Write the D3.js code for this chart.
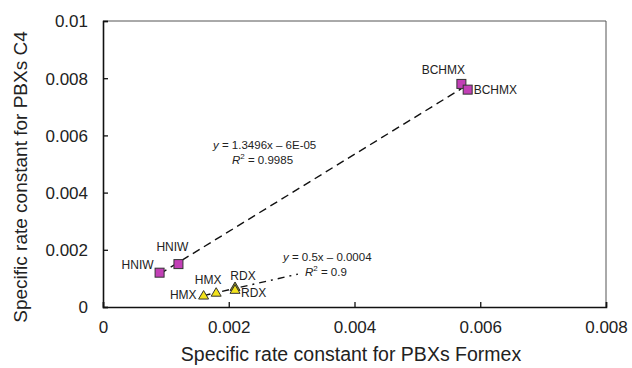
<!DOCTYPE html>
<html>
<head>
<meta charset="utf-8">
<script src="https://cdn.jsdelivr.net/npm/d3@7"></script>
<style>
  body { margin: 0; background: #fff; }
  text { font-family: "Liberation Sans", Arial, sans-serif; fill: #222; }
</style>
</head>
<body>
<svg width="632" height="368"></svg>
<script>
// data
var squareNames = ["BCHMX", "BCHMX", "HNIW", "HNIW"];
var squareX = [0.0057, 0.0058, 0.0009, 0.0012];
var squareY = [0.0078, 0.0076, 0.0012, 0.0015];

var triNames = ["HMX", "HMX", "RDX", "RDX"];
var triX = [0.0016, 0.0018, 0.0021, 0.0021];
var triY = [0.0004, 0.0005, 0.0007, 0.0006];

var xTicks = [0, 0.002, 0.004, 0.006, 0.008];
var yTicks = [0, 0.002, 0.004, 0.006, 0.008, 0.01];

// trend lines: slope, intercept, x range
var fit1 = { a: 1.3496, b: -0.00006, x0: 0.0009, x1: 0.0057 };
var fit2 = { a: 0.5, b: -0.0004, x0: 0.0016, x1: 0.0031 };

var svg = d3.select("svg");
var margin = { top: 21, right: 26, bottom: 61, left: 103 };
var width = 632 - margin.left - margin.right;
var height = 368 - margin.top - margin.bottom;

var x = d3.scaleLinear().domain([0, 0.008]).range([0, width]);
var y = d3.scaleLinear().domain([0, 0.01]).range([height, 0]);

var g = svg.append("g")
  .attr("transform", "translate(" + margin.left + "," + margin.top + ")");

// top and right frame
g.append("path")
  .attr("d", "M0,0H" + width + "V" + height)
  .attr("fill", "none")
  .attr("stroke", "#555")
  .attr("stroke-width", 1);

// axes, ticks drawn inside
var fmt = function(d) { return d === 0 ? "0" : String(+d.toFixed(3)); };
var xAxis = g.append("g")
  .attr("transform", "translate(0," + height + ")")
  .call(d3.axisBottom(x).tickValues(xTicks).tickSize(-5).tickPadding(14).tickFormat(fmt));
var yAxis = g.append("g")
  .call(d3.axisLeft(y).tickValues(yTicks).tickSize(-5).tickPadding(15).tickFormat(fmt));

[xAxis, yAxis].forEach(function(ax) {
  ax.select(".domain").attr("stroke", "#111").attr("stroke-width", 1.6);
  ax.selectAll(".tick line").attr("stroke", "#111").attr("stroke-width", 1.3);
  ax.selectAll(".tick text")
    .style("font-family", "'Liberation Sans', Arial, sans-serif")
    .style("font-size", "17px").attr("fill", "#222");
});
yAxis.selectAll(".tick text").attr("dy", "0.35em");

// axis titles
svg.append("text")
  .attr("x", 351).attr("y", 361)
  .attr("text-anchor", "middle").style("font-size", "19.5px")
  .text("Specific rate constant for PBXs Formex");
svg.append("text")
  .attr("transform", "translate(27,177) rotate(-90)")
  .attr("text-anchor", "middle").style("font-size", "19px")
  .text("Specific rate constant for PBXs C4");

// trend lines
function fitLine(f, dash) {
  g.append("line")
    .attr("x1", x(f.x0)).attr("y1", y(f.a * f.x0 + f.b))
    .attr("x2", x(f.x1)).attr("y2", y(f.a * f.x1 + f.b))
    .attr("stroke", "#111").attr("stroke-width", 1.4)
    .attr("stroke-dasharray", dash);
}
fitLine(fit1, "8,5");
fitLine(fit2, "7,5,2,5");

// squares
var sq = squareX.map(function(v, i) { return { x: v, y: squareY[i], name: squareNames[i] }; });
g.selectAll("rect.pt").data(sq).enter().append("rect")
  .attr("class", "pt")
  .attr("x", function(d) { return x(d.x) - 4.5; })
  .attr("y", function(d) { return y(d.y) - 4.5; })
  .attr("width", 9).attr("height", 9)
  .attr("fill", "#c23fb6").attr("stroke", "#333").attr("stroke-width", 1);

// triangles
var tri = triX.map(function(v, i) { return { x: v, y: triY[i], name: triNames[i] }; });
g.selectAll("path.pt").data(tri).enter().append("path")
  .attr("class", "pt")
  .attr("transform", function(d) { return "translate(" + x(d.x) + "," + y(d.y) + ")"; })
  .attr("d", "M0,-5L5,3.5H-5Z")
  .attr("fill", function(d, i) { return i === 2 ? "#8a8a1a" : "#f2e21c"; })
  .attr("stroke", "#333").attr("stroke-width", 1);

// point labels: offset and anchor for each point
var sqLab = [[-18, -10, "middle"], [6, 4, "start"], [-6, -4, "end"], [-6, -13, "middle"]];
var triLab = [[-7, 3, "end"], [-8, -9, "middle"], [8, -7, "middle"], [6, 7, "start"]];
function labels(data, offs) {
  g.selectAll(null).data(data).enter().append("text")
    .attr("x", function(d, i) { return x(d.x) + offs[i][0]; })
    .attr("y", function(d, i) { return y(d.y) + offs[i][1]; })
    .attr("text-anchor", function(d, i) { return offs[i][2]; })
    .style("font-size", "12px")
    .text(function(d) { return d.name; });
}
labels(sq, sqLab);
labels(tri, triLab);

// equations
function equation(px, py, eq, r2, r2dx) {
  var t = svg.append("text").attr("x", px).attr("y", py).style("font-size", "11.5px");
  t.append("tspan").style("font-style", "italic").text("y");
  t.append("tspan").text(" = " + eq);
  var r = svg.append("text").attr("x", px + r2dx).attr("y", py + 15).style("font-size", "11.5px");
  r.append("tspan").style("font-style", "italic").text("R");
  r.append("tspan").attr("dy", -5).style("font-size", "8px").text("2");
  r.append("tspan").attr("dy", 5).text("  = " + r2);
}
equation(213, 149, "1.3496x \u2013 6E-05", "0.9985", 19);
equation(283, 261, "0.5x \u2013 0.0004", "0.9", 22);
</script>
</body>
</html>
